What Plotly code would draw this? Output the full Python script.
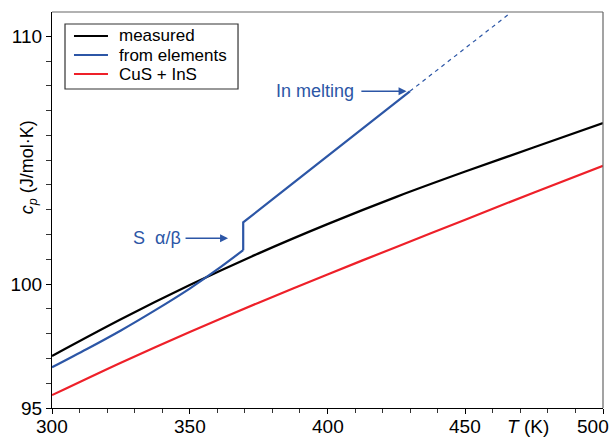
import plotly.graph_objects as go

# ---- data ----
T_measured = [300, 325, 350, 375, 400, 425, 450, 475, 500]
cp_measured = [97.1, 98.58, 99.96, 101.24, 102.42, 103.52, 104.54, 105.52, 106.5]

T_elements_low = [300, 312.5, 325, 337.5, 350, 360, 369.4]
cp_elements_low = [96.64, 97.37, 98.13, 98.95, 99.82, 100.59, 101.37]

T_elements_high = [369.4, 369.4, 380, 400, 415, 429.9]
cp_elements_high = [101.37, 102.49, 103.42, 105.17, 106.48, 107.78]

T_elements_ext = [429.9, 440, 450, 466.5]
cp_elements_ext = [107.78, 108.65, 109.52, 110.95]

T_binary = [300, 325, 350, 375, 400, 425, 450, 475, 500]
cp_binary = [95.52, 96.83, 98.07, 99.25, 100.39, 101.5, 102.6, 103.7, 104.77]

x_ticks = [300, 350, 400, 450, 500]
x_tick_labels = ["300", "350", "400", "450", "500"]
y_ticks = [95, 100, 110]

series_names = ["measured", "from elements", "CuS + InS"]

BLUE = "#2c56a6"
RED = "#ee2029"
BLACK = "#000000"
series_colors = [BLACK, BLUE, RED]
FONT = "Liberation Sans, Arial, Helvetica, sans-serif"

fig = go.Figure()
fig.add_trace(go.Scatter(x=T_measured, y=cp_measured, mode="lines", name=series_names[0],
                         line=dict(color=BLACK, width=2.2, shape="spline", smoothing=0.8)))
fig.add_trace(go.Scatter(x=T_elements_low, y=cp_elements_low, mode="lines", name=series_names[1],
                         line=dict(color=BLUE, width=2.2, shape="spline", smoothing=0.8)))
fig.add_trace(go.Scatter(x=T_elements_high, y=cp_elements_high, mode="lines", showlegend=False,
                         line=dict(color=BLUE, width=2.2)))
fig.add_trace(go.Scatter(x=T_binary, y=cp_binary, mode="lines", name=series_names[2],
                         line=dict(color=RED, width=2.2, shape="spline", smoothing=0.8)))
fig.add_trace(go.Scatter(x=T_elements_ext, y=cp_elements_ext, mode="lines", showlegend=False,
                         line=dict(color=BLUE, width=1.2, dash="4px,4px")))

fig.update_layout(
    width=610, height=437, autosize=False,
    margin=dict(l=52, r=7, t=12, b=29),
    paper_bgcolor="white", plot_bgcolor="white",
    font=dict(family=FONT, size=19, color="black"),
    showlegend=False,
    xaxis=dict(range=[300, 500], tickvals=x_ticks, showticklabels=False,
               ticks="outside", ticklen=5,
               tickcolor="black", showline=True, linecolor="black", linewidth=1.2,
               showgrid=False, zeroline=False, automargin=False,
               minor=dict(dtick=10, ticks="outside", ticklen=4, tickcolor="#333")),
    yaxis=dict(range=[95, 110.98], tickvals=y_ticks, ticks="outside", ticklen=5,
               tickcolor="black", showline=True, linecolor="black", linewidth=1.2,
               showgrid=False, zeroline=False, tickfont=dict(size=19), automargin=False,
               minor=dict(dtick=1, ticks="outside", ticklen=5, tickcolor="#333")),
)

# x tick labels (placed as text so that the last one stays inside the page)
for tv, tl in zip(x_ticks, x_tick_labels):
    fig.add_annotation(text=tl, xref="x", yref="paper", x=tv, y=0, yshift=-18.5,
                       xshift=-10 if tv == x_ticks[-1] else 0, borderpad=0,
                       showarrow=False, xanchor="center", yanchor="middle",
                       font=dict(size=19))

# top and right frame lines (gray)
fig.add_shape(type="line", xref="paper", yref="paper", x0=0, x1=1, y0=1, y1=1,
              line=dict(color="#666", width=1.2))
fig.add_shape(type="line", xref="paper", yref="paper", x0=1, x1=1, y0=0, y1=1,
              line=dict(color="#666", width=1.2))

# manual legend (box, sample lines, labels)
fig.add_shape(type="rect", xref="paper", yref="paper", x0=0.0236, x1=0.3376,
              y0=0.8056, y1=0.9697, line=dict(color="#333", width=1.2), fillcolor="white")
legend_rows = [0.9394, 0.8914, 0.8434]
for name, color, yy in zip(series_names, series_colors, legend_rows):
    fig.add_shape(type="line", xref="paper", yref="paper", x0=0.0399, x1=0.1016,
                  y0=yy, y1=yy, line=dict(color=color, width=2.2))
    fig.add_annotation(text=name, xref="paper", yref="paper", x=0.118, y=yy,
                       xanchor="left", yanchor="middle", showarrow=False,
                       font=dict(size=17, color="black"))

# axis titles
fig.add_annotation(text="<i>c<sub>p</sub></i> (J/mol·K)", xref="paper", yref="paper",
                   x=0, y=0.608, xshift=-24, textangle=-90, showarrow=False,
                   font=dict(size=18), xanchor="center", yanchor="middle")
fig.add_annotation(text="<i>T</i> (K)", xref="paper", yref="paper",
                   x=0.864, y=0, yshift=-18.5, borderpad=0, showarrow=False,
                   font=dict(size=19), xanchor="center", yanchor="middle")

# labels with arrows (text sits at the arrow tail)
fig.add_annotation(x=428.7, y=107.78, xref="x", yref="y", ax=-91.7, ay=0,
                   text="In melting", showarrow=True, arrowhead=2, borderpad=7,
                   arrowsize=1, arrowwidth=1.6, arrowcolor=BLUE,
                   font=dict(size=18, color=BLUE))
fig.add_annotation(x=363.9, y=101.85, xref="x", yref="y", ax=-71, ay=0,
                   text="S  α/β", showarrow=True, arrowhead=2, borderpad=4,
                   arrowsize=1, arrowwidth=1.6, arrowcolor=BLUE,
                   font=dict(size=18, color=BLUE))

fig.write_html(
    "out.html",
    default_width="610px",
    default_height="437px",
    config={"responsive": False, "displayModeBar": False},
    post_script=(
        "document.body.style.margin='0px';"
        "document.body.style.padding='0px';"
        "document.body.style.overflow='hidden';"
        "Plotly.relayout(document.getElementById('{plot_id}'), {width:610, height:437});"
    ),
)
